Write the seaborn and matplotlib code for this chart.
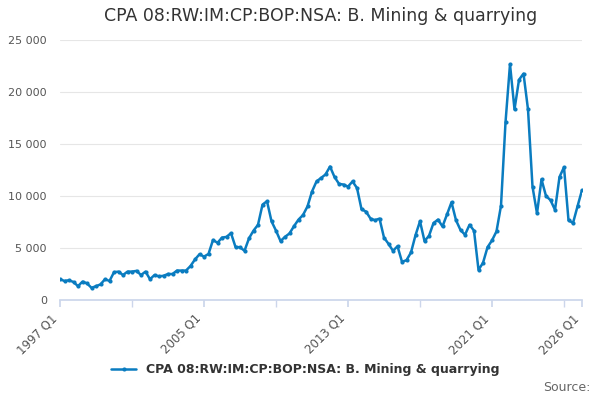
import pandas as pd
import numpy as np
import matplotlib.pyplot as plt
import seaborn as sns

sns.set_theme(style='white')
plt.rcParams['font.family'] = ['DejaVu Sans']

# quarterly values, 1997 Q1 .. 2026 Q1
values = [2000, 1830, 1900, 1730, 1330, 1770, 1600, 1170, 1330, 1500,
          2000, 1830, 2670, 2730, 2400, 2730, 2730, 2800, 2400, 2730,
          2000, 2400, 2270, 2330, 2500, 2500, 2830, 2830, 2830, 3270,
          3900, 4400, 4170, 4430, 5770, 5500, 6000, 6070, 6430, 5100,
          5070, 4730, 5930, 6670, 7230, 9170, 9500, 7570, 6670, 5670,
          6070, 6400, 7100, 7730, 8170,
          9000, 10430, 11400, 11730, 12070, 12830, 11830, 11170, 11100, 10900,
          11400, 10770, 8730, 8500, 7830, 7670, 7830, 6000, 5400, 4730,
          5170, 3670, 3830, 4570, 6230, 7570, 5670, 6170, 7400, 7730,
          7070, 8230, 9400, 7670, 6730, 6270, 7230, 6670, 2900, 3570,
          5070, 5730, 6600, 9070, 17070, 22670, 18330, 21170, 21770, 18330,
          10900, 8330, 11600, 10000, 9600, 8670, 11830, 12770, 7670, 7400,
          9000, 10570]
tick_labels = ['1997 Q1', '2005 Q1', '2013 Q1', '2021 Q1', '2026 Q1']
tick_pos = [0, 32, 64, 96, 116]
series_name = 'CPA 08:RW:IM:CP:BOP:NSA: B. Mining & quarrying'

df = pd.DataFrame({'q': np.arange(len(values)), 'value': values})

fig, ax = plt.subplots(figsize=(6, 4), dpi=100)
fig.subplots_adjust(left=0.1, right=0.97, top=0.9, bottom=0.25)
color = '#0a7cc0'
sns.lineplot(data=df, x='q', y='value', ax=ax, color=color, lw=1.8,
             marker='o', markersize=3, markeredgewidth=0, label=series_name)

ax.set_xlim(0, 116)
ax.set_ylim(0, 25000)
ax.set_yticks(range(0, 25001, 5000))
ax.set_yticklabels([f'{v:,}'.replace(',', ' ') for v in range(0, 25001, 5000)],
                   fontsize=8, color='#555555')
ax.set_xticks(tick_pos)
ax.set_xticklabels(tick_labels, rotation=45, ha='right', fontsize=8.5, color='#555555')
ax.set_xticks(range(0, 117, 16), minor=True)
ax.tick_params(axis='x', which='both', length=5, color='#ccd6eb', bottom=True)
ax.grid(axis='y', color='#e6e6e6', lw=0.8)
for s in ['top', 'right', 'left']:
    ax.spines[s].set_visible(False)
ax.spines['bottom'].set_color('#ccd6eb')
ax.set_xlabel('')
ax.set_ylabel('')
ax.set_title(series_name, fontsize=12.5, color='#333333', pad=14)
ax.legend(loc='upper center', bbox_to_anchor=(0.47, -0.2), frameon=False,
          prop={'weight': 'bold', 'size': 9}, labelcolor='#333333')
fig.text(0.985, 0.015, 'Source:', ha='right', va='bottom', fontsize=9, color='#666666')
fig.savefig('out.png')
